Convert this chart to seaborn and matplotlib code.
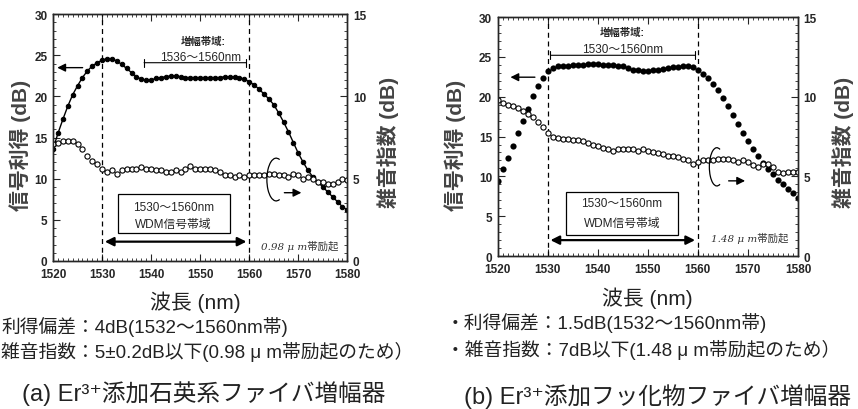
import matplotlib
matplotlib.use('Agg')
import matplotlib.pyplot as plt
from matplotlib.patches import Arc, Rectangle
from matplotlib.ticker import MultipleLocator
import numpy as np
import pandas as pd
import seaborn as sns

# 波長 (nm), 1 nm刻み
wavelength = list(range(1520, 1581))

# (a) Er3+添加石英系ファイバ増幅器
gain_a = [13.6, 15.5, 17.2, 18.8, 20.2, 21.3, 22.3, 23.1, 23.7, 24.1,
          24.4, 24.6, 24.6, 24.3, 23.9, 23.4, 22.9, 22.4, 22.1, 22.0,
          22.0, 22.2, 22.3, 22.4, 22.5, 22.5, 22.4, 22.3, 22.3, 22.3,
          22.3, 22.3, 22.3, 22.3, 22.3, 22.4, 22.4, 22.4, 22.3, 22.1,
          21.8, 21.4, 20.9, 20.3, 19.7, 19.0, 18.0, 16.9, 15.7, 14.4,
          13.1, 12.0, 11.0, 10.2, 9.6, 9.0, 8.4, 7.8, 7.2, 6.6, 6.2]
nf_a = [7.1, 7.2, 7.3, 7.3, 7.3, 7.1, 6.8, 6.4, 6.1, 5.9,
        5.6, 5.4, 5.5, 5.3, 5.5, 5.6, 5.6, 5.6, 5.7, 5.6,
        5.6, 5.5, 5.5, 5.4, 5.4, 5.5, 5.4, 5.6, 5.8, 5.6,
        5.6, 5.6, 5.6, 5.5, 5.4, 5.2, 5.2, 5.1, 5.2, 5.1,
        5.2, 5.2, 5.2, 5.2, 5.3, 5.3, 5.2, 5.2, 5.1, 5.3,
        5.2, 5.0, 5.1, 5.0, 4.8, 4.8, 4.7, 4.7, 4.8, 5.0, 4.9]

# (b) Er3+添加フッ化物ファイバ増幅器
gain_b = [9.4, 10.9, 12.3, 13.8, 15.4, 17.0, 18.5, 20.1, 21.3, 22.3,
          23.2, 23.6, 23.8, 23.9, 23.9, 24.0, 24.0, 24.0, 24.1, 24.1,
          24.1, 24.0, 24.0, 24.0, 23.9, 23.8, 23.6, 23.4, 23.3, 23.2,
          23.2, 23.3, 23.4, 23.5, 23.6, 23.7, 23.7, 23.8, 23.8, 23.7,
          23.3, 22.8, 22.3, 21.6, 20.8, 19.8, 18.8, 17.7, 16.6, 15.5,
          14.5, 13.5, 12.6, 11.7, 10.9, 10.3, 9.6, 9.0, 8.4, 7.9, 7.3]
nf_b = [9.8, 9.6, 9.5, 9.4, 9.3, 9.1, 8.9, 8.7, 8.4, 8.1,
        7.7, 7.5, 7.4, 7.35, 7.35, 7.3, 7.3, 7.2, 7.1, 7.0,
        6.9, 6.8, 6.7, 6.6, 6.7, 6.7, 6.7, 6.7, 6.6, 6.7,
        6.6, 6.5, 6.45, 6.4, 6.3, 6.25, 6.2, 6.1, 6.0, 5.8,
        5.9, 6.0, 6.0, 6.0, 6.1, 6.1, 6.1, 6.0, 5.9, 6.0,
        5.9, 5.7, 5.6, 5.8, 5.8, 5.6, 5.3, 5.2, 5.3, 5.3, 5.3]

sns.set_style('ticks')
plt.rcParams['font.family'] = ['Liberation Sans', 'Noto Sans CJK JP', 'DejaVu Sans']
serif_cjk = ['DejaVu Serif', 'Noto Sans CJK JP']

df_a = pd.DataFrame({'wl': wavelength, 'gain': gain_a, 'nf': nf_a})
df_b = pd.DataFrame({'wl': wavelength, 'gain': gain_b, 'nf': nf_b})

fig = plt.figure(figsize=(8.58, 4.10), dpi=100)
ax_a = fig.add_axes([0.0618, 0.361, 0.343, 0.602])
ax_b = fig.add_axes([0.580, 0.373, 0.350, 0.583])


def setup(ax, ax2):
    ax.set_xlim(1520, 1580)
    ax.set_ylim(0, 30)
    ax2.set_ylim(0, 15)
    ax.set_xticks(range(1520, 1581, 10))
    ax.set_yticks(range(0, 31, 5))
    ax2.set_yticks(range(0, 16, 5))
    ax.xaxis.set_minor_locator(MultipleLocator(1))
    ax.yaxis.set_minor_locator(MultipleLocator(1))
    ax2.yaxis.set_minor_locator(MultipleLocator(0.5))
    ax.tick_params(which='both', direction='in', top=True, right=False, labelsize=8.5)
    ax.tick_params(axis='x', pad=5)
    ax.tick_params(axis='y', pad=4)
    ax.tick_params(which='major', length=5, width=0.8)
    ax.tick_params(which='minor', length=2.5, width=0.6)
    ax2.tick_params(which='both', direction='in', labelsize=8.5, pad=4)
    ax2.tick_params(which='major', length=5, width=0.8)
    ax2.tick_params(which='minor', length=2.5, width=0.6)
    for lab in ax.get_xticklabels() + ax.get_yticklabels() + ax2.get_yticklabels():
        lab.set_fontweight('bold')
    for a in (ax, ax2):
        for s in a.spines.values():
            s.set_linewidth(1.0)
    ax.set_xlabel('')
    ax.set_ylabel('')
    ax2.set_ylabel('')
    for x in (1530, 1560):
        ax.axvline(x, color='black', lw=0.9, ls=(0, (4, 3)))


# ---- (a) ----
ax2_a = ax_a.twinx()
sns.lineplot(data=df_a, x='wl', y='gain', ax=ax_a, color='black', lw=1.0,
             marker='o', markersize=3.2, markeredgecolor='black')
sns.scatterplot(data=df_a, x='wl', y='nf', ax=ax2_a, s=14, marker='o',
                facecolor='white', edgecolor='black', linewidth=0.8)
setup(ax_a, ax2_a)

ax_a.text(1550.7, 26.8, '増幅帯域:', ha='center', va='center', fontsize=7.5, fontweight='bold')
ax_a.text(1550.0, 24.8, '1536～1560nm', ha='center', va='center', fontsize=8.5)
ax_a.annotate('', xy=(1538, 24.1), xytext=(1560, 24.1),
              arrowprops=dict(arrowstyle='|-|, widthA=0.3, widthB=0.3', lw=0.8, color='black'))
ax_a.annotate('', xy=(1520.3, 23.5), xytext=(1526.6, 23.5),
              arrowprops=dict(arrowstyle='-|>', lw=1.0, color='black', mutation_scale=12))
ax_a.add_patch(Rectangle((1533.3, 3.4), 22.7, 4.7, facecolor='white',
                         edgecolor='black', lw=0.9, zorder=3))
ax_a.text(1544.6, 6.6, '1530～1560nm', ha='center', va='center', fontsize=8.5, zorder=4)
ax_a.text(1544.6, 4.5, 'WDM信号帯域', ha='center', va='center', fontsize=8.5, zorder=4)
ax_a.annotate('', xy=(1530, 2.35), xytext=(1560, 2.35),
              arrowprops=dict(arrowstyle='<|-|>', lw=1.6, color='black', mutation_scale=13))
ax_a.text(1570.2, 1.9, '0.98 μ m帯励起', ha='center', va='center', fontsize=7.5,
          style='italic', color='#333333', family=serif_cjk)
ax2_a.add_patch(Arc((1565.5, 4.95), 3.8, 2.6, theta1=60, theta2=300, lw=0.9, color='black'))
ax2_a.annotate('', xy=(1571.2, 4.15), xytext=(1566.6, 4.15),
               arrowprops=dict(arrowstyle='-|>', lw=1.0, color='black', mutation_scale=12))

# ---- (b) ----
ax2_b = ax_b.twinx()
sns.scatterplot(data=df_b, x='wl', y='gain', ax=ax_b, s=20, marker='o',
                color='black', edgecolor='black', linewidth=0)
sns.scatterplot(data=df_b, x='wl', y='nf', ax=ax2_b, s=14, marker='o',
                facecolor='white', edgecolor='black', linewidth=0.8)
setup(ax_b, ax2_b)

ax_b.text(1545, 28.1, '増幅帯域:', ha='center', va='center', fontsize=7.5, fontweight='bold')
ax_b.text(1545, 26.0, '1530～1560nm', ha='center', va='center', fontsize=8.5)
ax_b.annotate('', xy=(1530, 25.2), xytext=(1560, 25.2),
              arrowprops=dict(arrowstyle='|-|, widthA=0.3, widthB=0.3', lw=0.8, color='black'))
ax_b.annotate('', xy=(1522, 22.45), xytext=(1528, 22.45),
              arrowprops=dict(arrowstyle='-|>', lw=1.0, color='black', mutation_scale=12))
ax_b.add_patch(Rectangle((1533.7, 2.7), 22.3, 5.3, facecolor='white',
                         edgecolor='black', lw=0.9, zorder=3))
ax_b.text(1544.8, 6.6, '1530～1560nm', ha='center', va='center', fontsize=8.5, zorder=4)
ax_b.text(1544.8, 4.2, 'WDM信号帯域', ha='center', va='center', fontsize=8.5, zorder=4)
ax_b.annotate('', xy=(1530, 2.0), xytext=(1560, 2.0),
              arrowprops=dict(arrowstyle='<|-|>', lw=1.6, color='black', mutation_scale=13))
ax_b.text(1570.3, 2.3, '1.48 μ m帯励起', ha='center', va='center', fontsize=7.5,
          style='italic', color='#333333', family=serif_cjk)
ax2_b.add_patch(Arc((1563.8, 5.6), 3.0, 2.4, theta1=60, theta2=300, lw=0.9, color='black'))
ax2_b.annotate('', xy=(1570.0, 4.72), xytext=(1565.6, 4.72),
               arrowprops=dict(arrowstyle='-|>', lw=1.0, color='black', mutation_scale=12))

# axis labels
lab_color = '#444444'
for xpx, ypx, txt in [(20, 145, '信号利得 (dB)'), (388, 142, '雑音指数 (dB)'),
                      (455, 145, '信号利得 (dB)'), (843, 142, '雑音指数 (dB)')]:
    fig.text(xpx / 858, 1 - ypx / 410, txt, rotation=90, ha='center', va='center',
             fontsize=15, fontweight='bold', color=lab_color)
fig.text(195 / 858, 1 - 302 / 410, '波長 (nm)', ha='center', va='center', fontsize=15,
         color='#222222')
fig.text(647 / 858, 1 - 298 / 410, '波長 (nm)', ha='center', va='center', fontsize=15,
         color='#222222')

# notes under the panels
note_color = '#222222'
fig.text(1 / 858, 1 - 327 / 410, '利得偏差：4dB(1532～1560nm帯)', ha='left', va='center',
         fontsize=13.5, color=note_color)
fig.text(1 / 858, 1 - 352 / 410, '雑音指数：5±0.2dB以下(0.98 μ m帯励起のため）', ha='left', va='center',
         fontsize=13.5, color=note_color)
fig.text(446 / 858, 1 - 323 / 410, '・利得偏差：1.5dB(1532～1560nm帯)', ha='left', va='center',
         fontsize=13.5, color=note_color)
fig.text(446 / 858, 1 - 350 / 410, '・雑音指数：7dB以下(1.48 μ m帯励起のため）', ha='left', va='center',
         fontsize=13.5, color=note_color)
fig.text(204 / 858, 1 - 394 / 410, '(a) Er³⁺添加石英系ファイバ増幅器', ha='center', va='center',
         fontsize=17, color=note_color)
fig.text(657 / 858, 1 - 397 / 410, '(b) Er³⁺添加フッ化物ファイバ増幅器', ha='center', va='center',
         fontsize=17, color=note_color)

fig.savefig('out.png', dpi=100, facecolor='white')
